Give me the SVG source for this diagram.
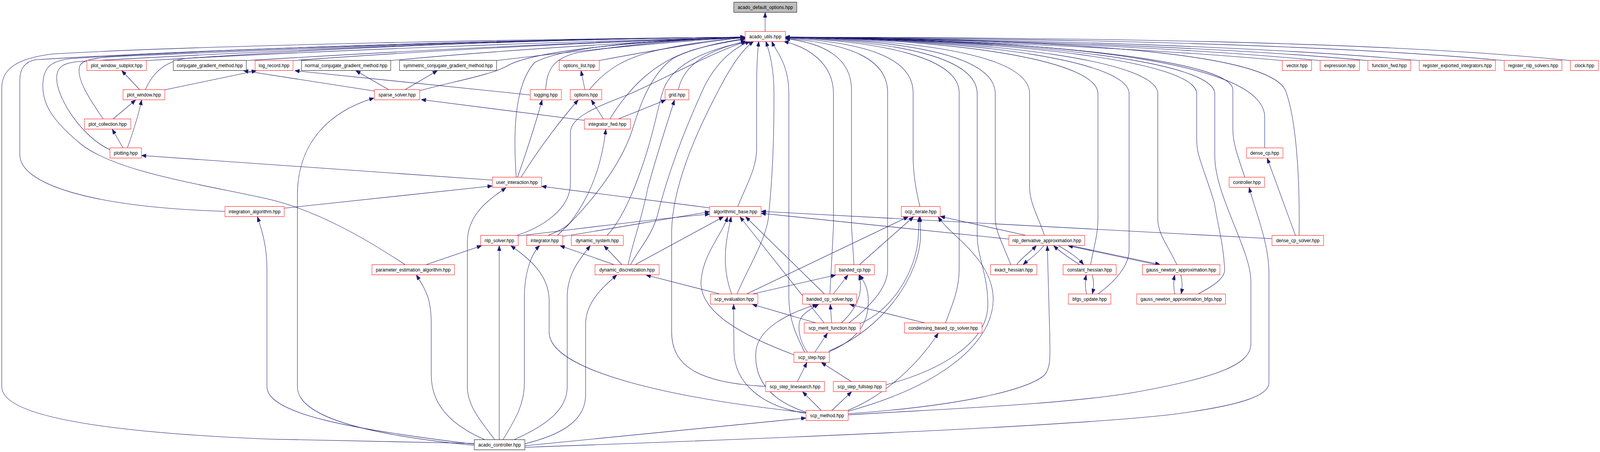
<svg xmlns="http://www.w3.org/2000/svg" width="4519" height="1157" viewBox="0 0 4519 1157" preserveAspectRatio="none">
<style>
svg{width:100vw;height:100vh}
.node rect{fill:#fff;stroke:#ff0000;stroke-width:1}
.node.k rect{stroke:#000}
.node.root rect{fill:#bfbfbf;stroke:#000}
.node text{font-family:'Liberation Sans',Arial,sans-serif;font-size:13px;text-anchor:middle;fill:#000}
#edges path{fill:none;stroke:#191970;stroke-width:1.1;marker-end:url(#ah)}
</style>
<defs>
<marker id="ah" markerUnits="userSpaceOnUse" markerWidth="13" markerHeight="10" viewBox="0 0 13 10" refX="13" refY="5" orient="auto"><path d="M0,0 L13,5 L0,10 z" fill="#191970" stroke="#191970" stroke-width="1"/></marker>
</defs>
<rect x="0" y="0" width="4519" height="1157" fill="#fff"/>
<g id="edges">
<path d="M 2161,80 L 2161,32"/>
<path d="M 413,155 C 900,130 1600,105 2104,96"/>
<path d="M 695,155 C 1100,133 1600,108 2104,96"/>
<path d="M 827,155 C 1200,130 1700,106 2104,96"/>
<path d="M 1103,155 C 1400,130 1800,106 2104,96"/>
<path d="M 1402,155 C 1650,128 1900,105 2104,96"/>
<path d="M 1692,155 C 1850,128 2000,105 2104,96"/>
<path d="M 1339,1135 L 760,1124 C 250,1105 5,1060 5,990 L 5,225 C 5,180 40,150 150,138 C 600,115 1500,100 2104,95"/>
<path d="M 635,541 C 250,530 56,470 56,396 L 56,205 C 56,175 70,158 100,153 C 600,125 1500,100 2104,95"/>
<path d="M 1145,678 C 1040,615 900,540 760,510 C 560,470 330,440 230,370 C 150,310 121,270 121,220 C 121,175 140,156 200,150 C 700,122 1500,100 2104,95"/>
<path d="M 310,383 C 230,350 160,250 160,200 C 160,170 180,160 230,157 C 800,128 1500,100 2104,95"/>
<path d="M 291,304 C 250,250 215,200 225,170 C 230,148 300,145 400,142 C 900,122 1500,100 2104,95"/>
<path d="M 411,229 C 430,190 460,160 520,150 C 900,125 1500,100 2104,95"/>
<path d="M 1185,232 C 1300,205 1390,190 1430,170 C 1500,130 1800,105 2104,96"/>
<path d="M 1541,229 C 1545,180 1560,150 1630,135 C 1800,110 1950,100 2104,96"/>
<path d="M 1665,229 C 1710,180 1760,150 1850,130 C 1950,110 2030,100 2104,97"/>
<path d="M 1458,453 C 1450,350 1450,220 1510,160 C 1600,115 1900,100 2104,96"/>
<path d="M 1723,304 C 1780,220 1850,160 1950,130 C 2020,110 2070,103 2104,99"/>
<path d="M 1916,229 C 1930,170 1990,130 2106,106"/>
<path d="M 1461,602 C 1520,585 1611,540 1611,470 L 1611,340 C 1611,300 1680,275 1780,240 C 1880,200 2000,140 2106,106"/>
<path d="M 1575,602 C 1660,530 1750,430 1785,335 C 1810,260 1840,190 1900,150 C 1960,120 2050,108 2104,100"/>
<path d="M 1715,602 C 1760,560 1800,470 1830,380 C 1850,320 1860,270 1870,240 C 1890,170 1980,130 2110,106"/>
<path d="M 1781,677 C 1810,630 1845,600 1860,540 C 1900,400 1960,280 1990,220 C 2030,150 2080,120 2118,106"/>
<path d="M 2162,989 C 1960,980 1897,930 1897,850 L 1897,590 C 1900,480 1960,350 2030,230 C 2070,160 2100,125 2128,106"/>
<path d="M 2084,528 C 2110,470 2137,430 2137,380 L 2137,220 C 2137,160 2140,130 2143,106"/>
<path d="M 2082,752 C 2110,690 2160,620 2170,560 C 2186,420 2186,300 2186,240 C 2186,170 2172,130 2163,106"/>
<path d="M 2273,902 C 2250,860 2228,820 2228,760 L 2228,240 C 2228,160 2190,130 2180,106"/>
<path d="M 2344,752 L 2354,580 L 2354,240 C 2354,160 2280,120 2214,106"/>
<path d="M 2412,678 L 2405,580 L 2405,230 C 2405,150 2330,110 2218,99"/>
<path d="M 2397,827 C 2450,790 2507,740 2507,690 L 2507,237 C 2507,150 2400,112 2218,98"/>
<path d="M 2598,528 C 2585,480 2579,440 2579,400 L 2579,237 C 2579,150 2450,108 2218,97"/>
<path d="M 2670,827 C 2690,780 2709,740 2709,690 L 2709,237 C 2709,150 2500,106 2218,96"/>
<path d="M 2502,985 C 2650,950 2790,880 2790,780 C 2790,700 2760,660 2760,600 L 2760,240 C 2760,150 2550,105 2218,96"/>
<path d="M 2855,678 C 2830,620 2811,590 2811,560 L 2811,240 C 2811,150 2600,104 2218,95"/>
<path d="M 2950,603 C 2935,560 2908,520 2908,480 L 2908,240 C 2908,150 2650,103 2218,95"/>
<path d="M 3080,678 C 3090,630 3101,600 3101,560 L 3101,240 C 3101,160 2750,102 2218,95"/>
<path d="M 3102,752 C 3150,720 3189,680 3189,640 L 3189,240 C 3189,160 2800,102 2218,95"/>
<path d="M 3324,678 C 3300,630 3270,600 3270,560 L 3270,240 C 3270,160 2850,102 2218,95"/>
<path d="M 3385,752 C 3420,735 3459,715 3459,690 C 3455,620 3440,580 3430,520 C 3400,430 3380,400 3380,360 L 3380,240 C 3380,160 2900,102 2218,95"/>
<path d="M 2395,1062 C 2700,1045 3000,1035 3200,1005 C 3450,965 3533,930 3533,880 L 3533,720 C 3533,640 3431,500 3431,400 L 3431,240 C 3431,160 2950,102 2218,95"/>
<path d="M 3516,454 C 3500,410 3482,370 3482,330 L 3482,230 C 3482,160 3000,102 2218,95"/>
<path d="M 3572,379 L 3572,300 C 3572,170 3100,102 2218,95"/>
<path d="M 3669,603 C 3672,450 3660,300 3630,230 C 3580,140 3100,102 2218,95"/>
<path d="M 3621,155 C 3200,120 2600,100 2218,95"/>
<path d="M 3728,155 C 3300,118 2700,100 2218,95"/>
<path d="M 3863,155 C 3400,116 2700,100 2218,95"/>
<path d="M 4008,155 C 3500,114 2800,100 2218,95"/>
<path d="M 4248,155 C 3700,110 2900,98 2218,95"/>
<path d="M 4435,155 C 3900,105 3000,96 2218,95"/>
<path d="M 394,229 L 344,181"/>
<path d="M 465,230 L 724,181"/>
<path d="M 1057,233 L 688,181"/>
<path d="M 1497,243 L 833,181"/>
<path d="M 1097,229 L 1005,181"/>
<path d="M 1145,229 L 1235,181"/>
<path d="M 1652,229 L 1641,181"/>
<path d="M 1704,304 L 1670,256"/>
<path d="M 1748,304 L 1880,256"/>
<path d="M 1650,308 L 1190,255"/>
<path d="M 1472,453 C 1530,370 1590,300 1633,256"/>
<path d="M 1462,453 C 1490,380 1515,310 1531,256"/>
<path d="M 1390,461 L 400,398"/>
<path d="M 802,533 L 1390,476"/>
<path d="M 2004,532 L 1530,477"/>
<path d="M 1397,1125 C 1360,1080 1320,1040 1320,990 L 1320,620 C 1320,550 1380,510 1429,481"/>
<path d="M 347,378 L 317,331"/>
<path d="M 360,378 C 375,340 390,300 400,256"/>
<path d="M 320,304 L 383,256"/>
<path d="M 1550,602 C 1575,592 1595,585 1610,570 C 1670,500 1700,420 1711,331"/>
<path d="M 1774,677 C 1790,610 1810,570 1830,480 C 1860,380 1890,300 1905,256"/>
<path d="M 1339,1137 C 1000,1100 754,1060 754,990 L 754,690 C 754,630 740,590 727,555"/>
<path d="M 1339,1140 C 1000,1110 840,1060 840,990 L 840,500 C 840,350 950,280 1056,251"/>
<path d="M 1368,1125 C 1280,1090 1218,1040 1218,960 L 1218,830 C 1218,760 1200,740 1176,704"/>
<path d="M 1410,1125 L 1410,629"/>
<path d="M 1421,1125 C 1450,1080 1481,1040 1481,980 L 1481,760 C 1481,700 1500,650 1524,629"/>
<path d="M 1453,1125 C 1540,1090 1602,1050 1602,990 L 1602,760 C 1602,700 1640,660 1667,629"/>
<path d="M 1482,1136 C 1600,1110 1654,1070 1654,1010 L 1654,830 C 1654,770 1710,730 1742,704"/>
<path d="M 1482,1141 L 2276,1070"/>
<path d="M 1482,1145 C 2200,1122 3000,1092 3300,1062 C 3520,1037 3584,1010 3584,980 L 3584,700 C 3584,620 3545,540 3528,480"/>
<path d="M 1205,677 L 1360,629"/>
<path d="M 1463,604 C 1600,590 1800,565 2004,548"/>
<path d="M 1589,605 C 1700,590 1850,565 2004,542"/>
<path d="M 1733,677 L 1582,629"/>
<path d="M 1756,677 L 1706,629"/>
<path d="M 1795,677 L 2043,555"/>
<path d="M 2031,752 L 1825,704"/>
<path d="M 2066,752 C 2045,700 2045,650 2055,600 L 2065,555"/>
<path d="M 2128,752 L 2360,704"/>
<path d="M 2110,752 L 2565,555"/>
<path d="M 2328,752 L 2106,555"/>
<path d="M 2328,827 L 2090,555"/>
<path d="M 2242,908 C 2100,860 1975,800 1980,720 C 1985,650 2040,600 2055,555"/>
<path d="M 2306,827 L 2125,779"/>
<path d="M 2276,1058 C 2150,1040 2075,980 2073,900 L 2072,779"/>
<path d="M 2276,1056 C 1900,1020 1551,950 1551,850 L 1551,770 C 1551,700 1490,660 1443,629"/>
<path d="M 2276,1055 C 2160,1020 2130,960 2135,900 C 2140,840 2230,800 2308,779"/>
<path d="M 2281,902 C 2255,870 2250,830 2265,810 C 2280,795 2300,785 2312,779"/>
<path d="M 2301,902 L 2337,853"/>
<path d="M 2340,901 C 2420,870 2450,830 2452,780 C 2455,740 2440,720 2428,704"/>
<path d="M 2342,898 C 2500,840 2600,700 2600,600 L 2599,555"/>
<path d="M 2376,827 C 2420,790 2440,750 2426,704"/>
<path d="M 2429,828 C 2510,800 2590,700 2594,600 L 2596,555"/>
<path d="M 2349,827 L 2345,779"/>
<path d="M 2354,752 L 2395,704"/>
<path d="M 2428,677 L 2580,555"/>
<path d="M 2614,827 L 2400,779"/>
<path d="M 2252,977 L 2279,928"/>
<path d="M 2405,977 L 2320,928"/>
<path d="M 2320,1051 L 2267,1003"/>
<path d="M 2349,1051 L 2405,1003"/>
<path d="M 2393,1051 C 2480,1020 2580,950 2650,853"/>
<path d="M 2395,1059 C 2700,1040 2900,1000 2950,960 C 2970,940 2965,900 2965,860 L 2958,629"/>
<path d="M 2394,1053 C 2650,990 2810,880 2805,760 C 2800,660 2680,600 2650,555"/>
<path d="M 2900,603 L 2656,554"/>
<path d="M 2849,612 L 2150,546"/>
<path d="M 3592,611 C 3200,595 2700,570 2150,541"/>
<path d="M 3659,603 L 3579,405"/>
<path d="M 2871,678 C 2885,660 2910,645 2927,629"/>
<path d="M 2948,629 C 2930,650 2905,665 2890,677"/>
<path d="M 3050,678 C 3020,660 2995,645 2976,629"/>
<path d="M 2990,629 C 3020,645 3045,660 3060,677"/>
<path d="M 3269,678 L 3017,629"/>
<path d="M 3025,629 L 3276,677"/>
<path d="M 3085,704 C 3090,720 3090,735 3085,752"/>
<path d="M 3069,752 C 3064,735 3064,720 3068,704"/>
<path d="M 3335,704 C 3340,720 3340,735 3336,752"/>
<path d="M 3318,752 C 3314,735 3314,720 3318,704"/>
</g>
<g id="n-ado" class="node root"><rect x="2072.5" y="5.5" width="178" height="26"/><text x="2161.5" y="23">acado_default_options.hpp</text></g>
<g id="n-au" class="node"><rect x="2104.5" y="80.5" width="114" height="26"/><text x="2161.5" y="98">acado_utils.hpp</text></g>
<g id="n-pws" class="node"><rect x="245.5" y="154.5" width="168" height="26"/><text x="329.5" y="172">plot_window_subplot.hpp</text></g>
<g id="n-cgm" class="node k"><rect x="489.5" y="154.5" width="206" height="26"/><text x="592.5" y="172">conjugate_gradient_method.hpp</text></g>
<g id="n-lr" class="node"><rect x="720.5" y="154.5" width="107" height="26"/><text x="774" y="172">log_record.hpp</text></g>
<g id="n-ncgm" class="node k"><rect x="851.5" y="154.5" width="252" height="26"/><text x="977.5" y="172">normal_conjugate_gradient_method.hpp</text></g>
<g id="n-scgm" class="node k"><rect x="1128.5" y="154.5" width="274" height="26"/><text x="1265.5" y="172">symmetric_conjugate_gradient_method.hpp</text></g>
<g id="n-ol" class="node"><rect x="1579.5" y="154.5" width="113" height="26"/><text x="1636" y="172">options_list.hpp</text></g>
<g id="n-vec" class="node"><rect x="3621.5" y="154.5" width="83" height="26"/><text x="3663" y="172">vector.hpp</text></g>
<g id="n-exp" class="node"><rect x="3728.5" y="154.5" width="111" height="26"/><text x="3784" y="172">expression.hpp</text></g>
<g id="n-ff" class="node"><rect x="3863.5" y="154.5" width="121" height="26"/><text x="3924" y="172">function_fwd.hpp</text></g>
<g id="n-rei" class="node"><rect x="4008.5" y="154.5" width="215" height="26"/><text x="4116" y="172">register_exported_integrators.hpp</text></g>
<g id="n-rns" class="node"><rect x="4248.5" y="154.5" width="163" height="26"/><text x="4330" y="172">register_nlp_solvers.hpp</text></g>
<g id="n-clk" class="node"><rect x="4435.5" y="154.5" width="79" height="26"/><text x="4475" y="172">clock.hpp</text></g>
<g id="n-pw" class="node"><rect x="347.5" y="229.5" width="118" height="26"/><text x="406.5" y="247">plot_window.hpp</text></g>
<g id="n-ss" class="node"><rect x="1057.5" y="229.5" width="128" height="26"/><text x="1121.5" y="247">sparse_solver.hpp</text></g>
<g id="n-log" class="node"><rect x="1497.5" y="229.5" width="88" height="26"/><text x="1541.5" y="247">logging.hpp</text></g>
<g id="n-opt" class="node"><rect x="1610.5" y="229.5" width="89" height="26"/><text x="1655" y="247">options.hpp</text></g>
<g id="n-grid" class="node"><rect x="1878.5" y="229.5" width="67" height="26"/><text x="1912" y="247">grid.hpp</text></g>
<g id="n-pc" class="node"><rect x="238.5" y="304.5" width="131" height="26"/><text x="304" y="322">plot_collection.hpp</text></g>
<g id="n-if" class="node"><rect x="1650.5" y="304.5" width="130" height="26"/><text x="1715.5" y="322">integrator_fwd.hpp</text></g>
<g id="n-plt" class="node"><rect x="310.5" y="378.5" width="89" height="26"/><text x="355" y="396">plotting.hpp</text></g>
<g id="n-dcp" class="node"><rect x="3520.5" y="378.5" width="103" height="26"/><text x="3572" y="396">dense_cp.hpp</text></g>
<g id="n-ui" class="node"><rect x="1390.5" y="453.5" width="139" height="26"/><text x="1460" y="471">user_interaction.hpp</text></g>
<g id="n-ctrl" class="node"><rect x="3471.5" y="453.5" width="100" height="26"/><text x="3521.5" y="471">controller.hpp</text></g>
<g id="n-ia" class="node"><rect x="635.5" y="528.5" width="167" height="26"/><text x="719" y="546">integration_algorithm.hpp</text></g>
<g id="n-ab" class="node"><rect x="2004.5" y="528.5" width="145" height="26"/><text x="2077" y="546">algorithmic_base.hpp</text></g>
<g id="n-oi" class="node"><rect x="2545.5" y="528.5" width="110" height="26"/><text x="2600.5" y="546">ocp_iterate.hpp</text></g>
<g id="n-nlps" class="node"><rect x="1357.5" y="602.5" width="106" height="26"/><text x="1410.5" y="620">nlp_solver.hpp</text></g>
<g id="n-int" class="node"><rect x="1487.5" y="602.5" width="102" height="26"/><text x="1538.5" y="620">integrator.hpp</text></g>
<g id="n-ds" class="node"><rect x="1613.5" y="602.5" width="147" height="26"/><text x="1687" y="620">dynamic_system.hpp</text></g>
<g id="n-nda" class="node"><rect x="2849.5" y="602.5" width="214" height="26"/><text x="2956.5" y="620">nlp_derivative_approximation.hpp</text></g>
<g id="n-dcps" class="node"><rect x="3592.5" y="602.5" width="146" height="26"/><text x="3665.5" y="620">dense_cp_solver.hpp</text></g>
<g id="n-pea" class="node"><rect x="1050.5" y="677.5" width="233" height="26"/><text x="1167" y="695">parameter_estimation_algorithm.hpp</text></g>
<g id="n-dd" class="node"><rect x="1680.5" y="677.5" width="181" height="26"/><text x="1771" y="695">dynamic_discretization.hpp</text></g>
<g id="n-bcp" class="node"><rect x="2358.5" y="677.5" width="111" height="26"/><text x="2414" y="695">banded_cp.hpp</text></g>
<g id="n-eh" class="node"><rect x="2797.5" y="677.5" width="131" height="26"/><text x="2863" y="695">exact_hessian.hpp</text></g>
<g id="n-ch" class="node"><rect x="3002.5" y="677.5" width="150" height="26"/><text x="3077.5" y="695">constant_hessian.hpp</text></g>
<g id="n-gna" class="node"><rect x="3226.5" y="677.5" width="219" height="26"/><text x="3336" y="695">gauss_newton_approximation.hpp</text></g>
<g id="n-se" class="node"><rect x="2006.5" y="752.5" width="134" height="26"/><text x="2073.5" y="770">scp_evaluation.hpp</text></g>
<g id="n-bcps" class="node"><rect x="2266.5" y="752.5" width="153" height="26"/><text x="2343" y="770">banded_cp_solver.hpp</text></g>
<g id="n-bfgs" class="node"><rect x="3017.5" y="752.5" width="120" height="26"/><text x="3077.5" y="770">bfgs_update.hpp</text></g>
<g id="n-gnab" class="node"><rect x="3210.5" y="752.5" width="251" height="26"/><text x="3336" y="770">gauss_newton_approximation_bfgs.hpp</text></g>
<g id="n-smf" class="node"><rect x="2271.5" y="826.5" width="158" height="26"/><text x="2350.5" y="844">scp_merit_function.hpp</text></g>
<g id="n-cbcs" class="node"><rect x="2554.5" y="826.5" width="219" height="26"/><text x="2664" y="844">condensing_based_cp_solver.hpp</text></g>
<g id="n-sst" class="node"><rect x="2242.5" y="901.5" width="100" height="26"/><text x="2292.5" y="919">scp_step.hpp</text></g>
<g id="n-ssl" class="node"><rect x="2162.5" y="976.5" width="166" height="26"/><text x="2245.5" y="994">scp_step_linesearch.hpp</text></g>
<g id="n-ssf" class="node"><rect x="2353.5" y="976.5" width="149" height="26"/><text x="2428" y="994">scp_step_fullstep.hpp</text></g>
<g id="n-sm" class="node"><rect x="2276.5" y="1050.5" width="119" height="26"/><text x="2336" y="1068">scp_method.hpp</text></g>
<g id="n-ac" class="node k"><rect x="1339.5" y="1125.5" width="143" height="26"/><text x="1411" y="1143">acado_controller.hpp</text></g>
</svg>
